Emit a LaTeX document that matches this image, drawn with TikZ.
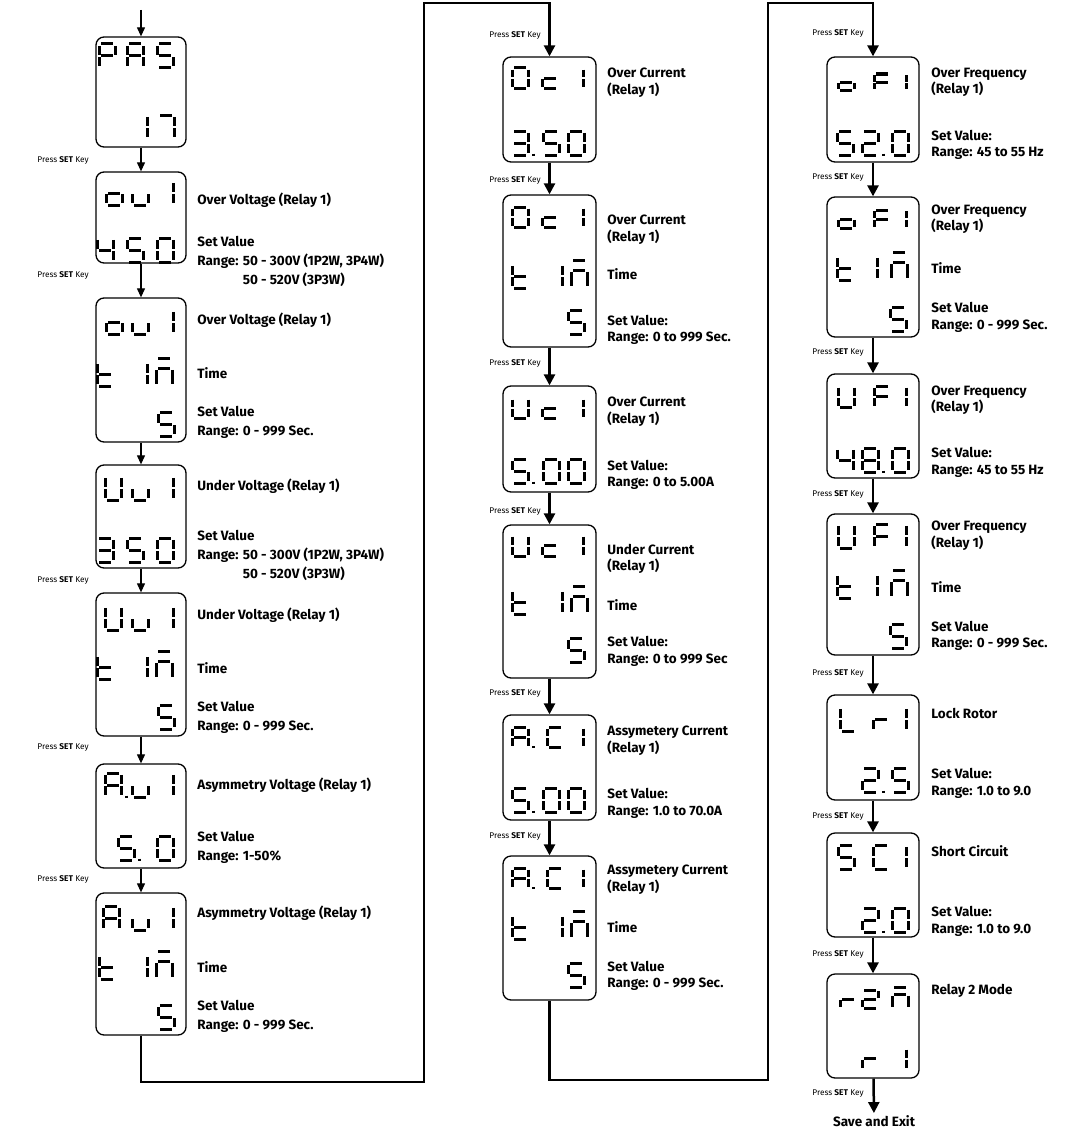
\documentclass[tikz,border=0pt]{standalone}
\usepackage{fontspec}
\setmainfont{Fira Sans}
\usetikzlibrary{arrows.meta}

\tikzset{every picture/.style={line width=0.75pt}}
\tikzset{
  lcdbox/.style={draw, rounded corners=8pt, line width=1.3pt, minimum width=90pt, inner sep=0pt},
  lcdseg/.style={line width=3pt, line cap=butt},
  desc/.style={anchor=west, inner sep=0pt, align=left, font=\fontsize{13.5}{19}\selectfont\bfseries},
  descs/.style={desc, font=\fontsize{13.5}{16.5}\selectfont\bfseries},
  presskey/.style={anchor=east, inner sep=0pt, font=\fontsize{8.3}{10}\selectfont},
  arrowsmall/.style={line width=1.1pt, -{Triangle[length=9pt,width=8pt]}},
  arrowbig/.style={line width=2.5pt, -{Triangle[length=11pt,width=11pt]}},
}

% segment end points of one display digit (16 x 24)
\newcommand{\lcdpoints}{%
  \coordinate (a1) at (2.2,0);   \coordinate (a2) at (13.8,0);
  \coordinate (b1) at (16,1.9);  \coordinate (b2) at (16,10.9);
  \coordinate (c1) at (16,13.1); \coordinate (c2) at (16,22.1);
  \coordinate (d1) at (2.2,24);  \coordinate (d2) at (13.8,24);
  \coordinate (e1) at (0,13.1);  \coordinate (e2) at (0,22.1);
  \coordinate (f1) at (0,1.9);   \coordinate (f2) at (0,10.9);
  \coordinate (g1) at (2.2,12);  \coordinate (g2) at (13.8,12);
  \coordinate (p1) at (21,22.5); \coordinate (p2) at (21,24.5);
  \coordinate (m1) at (2.2,-4);  \coordinate (m2) at (13.8,-4);
  \coordinate (n1) at (2.2,6);   \coordinate (n2) at (13.8,6);
  \coordinate (k1) at (0,7.9);   \coordinate (k2) at (0,22.1);
  \coordinate (l1) at (16,7.9);  \coordinate (l2) at (16,22.1);}
\newcommand{\lcd}[4][1]{%
  \begin{scope}[shift={(#2,#3)},yscale=#1]
    \lcdpoints
    \edef\lcdlist{#4}%
    \foreach \s in \lcdlist {\draw[lcdseg] (\s1) -- (\s2);}
  \end{scope}}
% glyphs
\def\sgA{a,b,c,e,f,g}
\def\sgP{a,b,e,f,g}
\def\sgS{a,c,d,f,g}
\def\sgOne{b,c}
\def\sgTwo{a,b,d,e,g}
\def\sgThree{a,b,c,d,g}
\def\sgFour{b,c,f,g}
\def\sgSeven{a,b,c}
\def\sgEight{a,b,c,d,e,f,g}
\def\sgZero{a,b,c,d,e,f}
\def\sgU{b,c,d,e,f}
\def\sgC{a,d,e,f}
\def\sgF{a,e,f,g}
\def\sgL{d,e,f}
\def\sgo{c,d,e,g}
\def\sgu{c,d,e}
\def\sgc{d,e,g}
\def\sgr{e,g}
\def\sgt{d,e,f,g}
\def\sgm{m,n,k,l}

\begin{document}
\begin{tikzpicture}[x=1pt,y=1pt,yscale=-1,xscale=1]
\path[fill=white] (0,0) rectangle (1067,1132);
\useasboundingbox (0,0) rectangle (1067,1132);

%%%%% first column
\coordinate (start) at (141,10);
\node[lcdbox, minimum height=110pt] (pas) at (141,92) {};
\node[lcdbox, minimum height=91pt] (ovA) at (141,217.5) {};
\node[lcdbox, minimum height=144pt] (ovB) at (141,370) {};
\node[lcdbox, minimum height=103pt] (uvA) at (141,516.5) {};
\node[lcdbox, minimum height=143pt] (uvB) at (141,664.5) {};
\node[lcdbox, minimum height=104pt] (avA) at (141,816) {};
\node[lcdbox, minimum height=142pt] (avB) at (141,964) {};

% PAS 17
\lcd{99}{44}{\sgP} \lcd{127}{44}{\sgA} \lcd{157}{44}{\sgS}
\lcd{131}{115}{\sgOne} \lcd{158}{115}{\sgSeven}
% ou1 450
\lcd{106}{181}{\sgo} \lcd{132}{181}{\sgu} \lcd{157}{181}{\sgOne}
\lcd{97}{238}{\sgFour} \lcd{127}{238}{\sgS} \lcd{157}{238}{\sgZero}
% ou1 time
\lcd{106}{310}{\sgo} \lcd{132}{310}{\sgu} \lcd{157}{310}{\sgOne}
\lcd{97}{362}{\sgt} \lcd{131}{362}{\sgOne} \lcd{156}{362}{\sgm}
\lcd{158}{412}{\sgS}
% Uu1 350
\lcd{105}{476}{\sgU} \lcd{132}{476}{\sgu} \lcd{157}{476}{\sgOne}
\lcd{97}{538}{\sgThree} \lcd{127}{538}{\sgS} \lcd{157}{538}{\sgZero}
% Uu1 time
\lcd{105}{606}{\sgU} \lcd{132}{606}{\sgu} \lcd{157}{606}{\sgOne}
\lcd{97}{655}{\sgt} \lcd{131}{655}{\sgOne} \lcd{156}{655}{\sgm}
\lcd{158}{705}{\sgS}
% A.u1 5.0
\lcd{105}{773}{\sgA,p} \lcd{132}{773}{\sgu} \lcd{157}{773}{\sgOne}
\lcd{118}{836}{\sgS,p} \lcd{157}{836}{\sgZero}
% Au1 time
\lcd{103}{906}{\sgA} \lcd{132}{906}{\sgu} \lcd{157}{906}{\sgOne}
\lcd{99}{955}{\sgt} \lcd{131}{955}{\sgOne} \lcd{156}{955}{\sgm}
\lcd{158}{1005}{\sgS}

% Text Node
\node[desc] (ovA-name) at (197,200) {Over Voltage (Relay 1)};
\node[desc] (ovA-set) at (197,262) {Set Value\\Range: 50 - 300V (1P2W, 3P4W)\\\phantom{Range: }50 - 520V (3P3W)};
\node[desc] (ovB-name) at (197,320) {Over Voltage (Relay 1)};
\node[desc] (ovB-time) at (197,373) {Time};
\node[desc] (ovB-set) at (197,422) {Set Value\\Range: 0 - 999 Sec.};
\node[desc] (uvA-name) at (197,486) {Under Voltage (Relay 1)};
\node[desc] (uvA-set) at (197,556) {Set Value\\Range: 50 - 300V (1P2W, 3P4W)\\\phantom{Range: }50 - 520V (3P3W)};
\node[desc] (uvB-name) at (197,615) {Under Voltage (Relay 1)};
\node[desc] (uvB-time) at (197,668) {Time};
\node[desc] (uvB-set) at (197,717.5) {Set Value\\Range: 0 - 999 Sec.};
\node[desc] (avA-name) at (197,785) {Asymmetry Voltage (Relay 1)};
\node[desc] (avA-set) at (197,847) {Set Value\\Range: 1-50\%};
\node[desc] (avB-name) at (197,913) {Asymmetry Voltage (Relay 1)};
\node[desc] (avB-time) at (197,967) {Time};
\node[desc] (avB-set) at (197,1016.5) {Set Value\\Range: 0 - 999 Sec.};

\node[presskey] (key1) at (89,160) {Press \textbf{SET} Key};
\node[presskey] (key2) at (89,275) {Press \textbf{SET} Key};
\node[presskey] (key3) at (89,580) {Press \textbf{SET} Key};
\node[presskey] (key4) at (89,747) {Press \textbf{SET} Key};
\node[presskey] (key5) at (89,879) {Press \textbf{SET} Key};

\draw[arrowsmall] (start) -- (pas);
\draw[arrowsmall] (pas) -- (ovA);
\draw[arrowsmall] (ovA) -- (ovB);
\draw[arrowsmall] (ovB) -- (uvA);
\draw[arrowsmall] (uvA) -- (uvB);
\draw[arrowsmall] (uvB) -- (avA);
\draw[arrowsmall] (avA) -- (avB);

%%%%% second column
\node[lcdbox, minimum width=93pt, minimum height=105pt] (ocA) at (549.5,109.5) {};
\node[lcdbox, minimum width=93pt, minimum height=152pt] (ocB) at (549.5,271) {};
\node[lcdbox, minimum width=93pt, minimum height=106pt] (ucA) at (549.5,439) {};
\node[lcdbox, minimum width=93pt, minimum height=153pt] (ucB) at (549.5,601.5) {};
\node[lcdbox, minimum width=93pt, minimum height=105pt] (acA) at (549.5,767.5) {};
\node[lcdbox, minimum width=93pt, minimum height=144pt] (acB) at (549.5,928) {};

% Oc1 3.50
\lcd[.85]{512}{68}{\sgZero} \lcd[.85]{542}{68}{\sgc} \lcd[.85]{567}{68}{\sgOne}
\lcd{512}{131}{\sgThree,p} \lcd{543}{131}{\sgS} \lcd{568}{131}{\sgZero}
% Oc1 time
\lcd[.85]{512}{207}{\sgZero} \lcd[.85]{542}{207}{\sgc} \lcd[.85]{567}{207}{\sgOne}
\lcd{512}{264}{\sgt} \lcd{546}{264}{\sgOne} \lcd{571}{264}{\sgm}
\lcd{568}{310}{\sgS}
% Uc1 5.00
\lcd[.85]{512}{398}{\sgU} \lcd[.85]{542}{398}{\sgc} \lcd[.85]{567}{398}{\sgOne}
\lcd{512}{459}{\sgS,p} \lcd{543}{459}{\sgZero} \lcd{568}{459}{\sgZero}
% Uc1 time
\lcd[.9]{512}{535}{\sgU} \lcd[.9]{542}{535}{\sgc} \lcd[.9]{567}{535}{\sgOne}
\lcd{512}{590}{\sgt} \lcd{546}{590}{\sgOne} \lcd{571}{590}{\sgm}
\lcd{568}{638}{\sgS}
% A.C1 5.00
\lcd[.85]{512}{727}{\sgA,p} \lcd[.85]{547}{727}{\sgC} \lcd[.85]{567}{727}{\sgOne}
\lcd{512}{788}{\sgS,p} \lcd{543}{788}{\sgZero} \lcd{568}{788}{\sgZero}
% A.C1 time
\lcd[.85]{512}{868}{\sgA,p} \lcd[.85]{547}{868}{\sgC} \lcd[.85]{567}{868}{\sgOne}
\lcd{512}{915}{\sgt} \lcd{546}{915}{\sgOne} \lcd{571}{915}{\sgm}
\lcd{568}{963}{\sgS}

% Text Node
\node[descs] (ocA-name) at (607,82.5) {Over Current\\(Relay 1)};
\node[descs] (ocB-name) at (607,229.5) {Over Current\\(Relay 1)};
\node[descs] (ocB-time) at (607,274) {Time};
\node[descs] (ocB-set) at (607,330) {Set Value:\\Range: 0 to 999 Sec.};
\node[descs] (ucA-name) at (607,411.5) {Over Current\\(Relay 1)};
\node[descs] (ucA-set) at (607,475) {Set Value:\\Range: 0 to 5.00A};
\node[descs] (ucB-name) at (607,559) {Under Current\\(Relay 1)};
\node[descs] (ucB-time) at (607,605) {Time};
\node[descs] (ucB-set) at (607,651.5) {Set Value:\\Range: 0 to 999 Sec};
\node[descs] (acA-name) at (607,740.5) {Assymetery Current\\(Relay 1)};
\node[descs] (acA-set) at (607,803.5) {Set Value:\\Range: 1.0 to 70.0A};
\node[descs] (acB-name) at (607,879.5) {Assymetery Current\\(Relay 1)};
\node[descs] (acB-time) at (607,927) {Time};
\node[descs] (acB-set) at (607,976) {Set Value\\Range: 0 - 999 Sec.};

\node[presskey] (key6) at (541,35) {Press \textbf{SET} Key};
\node[presskey] (key7) at (541,180) {Press \textbf{SET} Key};
\node[presskey] (key8) at (541,363) {Press \textbf{SET} Key};
\node[presskey] (key9) at (541,511) {Press \textbf{SET} Key};
\node[presskey] (key10) at (541,693) {Press \textbf{SET} Key};
\node[presskey] (key11) at (541,836) {Press \textbf{SET} Key};

\coordinate (turnA) at (424,1082);
\coordinate (topA) at (424,3);
\draw[arrowbig] (avB.south) |- (turnA) -- (topA) -| (ocA.north);
\draw[arrowbig] (ocA) -- (ocB);
\draw[arrowbig] (ocB) -- (ucA);
\draw[arrowbig] (ucA) -- (ucB);
\draw[arrowbig] (ucB) -- (acA);
\draw[arrowbig] (acA) -- (acB);

%%%%% third column
\node[lcdbox, minimum width=92pt, minimum height=105pt] (ofA) at (873,109.5) {};
\node[lcdbox, minimum width=92pt, minimum height=140pt] (ofB) at (873,267) {};
\node[lcdbox, minimum width=92pt, minimum height=104pt] (ufA) at (873,426) {};
\node[lcdbox, minimum width=92pt, minimum height=141pt] (ufB) at (873,584.5) {};
\node[lcdbox, minimum width=92pt, minimum height=105pt] (lr) at (873,747.5) {};
\node[lcdbox, minimum width=92pt, minimum height=104pt] (sc) at (873,885) {};
\node[lcdbox, minimum width=92pt, minimum height=104pt] (rm) at (873,1026) {};

% oF1 52.0
\lcd[.7]{838}{74}{\sgo} \lcd[.7]{874}{74}{\sgF} \lcd[.7]{890}{74}{\sgOne}
\lcd{837}{131}{\sgS} \lcd{862}{131}{\sgTwo,p} \lcd{892}{131}{\sgZero}
% oF1 time
\lcd[.75]{838}{210}{\sgo} \lcd[.75]{874}{210}{\sgF} \lcd[.75]{890}{210}{\sgOne}
\lcd{837}{256}{\sgt} \lcd{861}{256}{\sgOne} \lcd{891}{256}{\sgm}
\lcd{890}{307}{\sgS}
% UF1 48.0
\lcd[.9]{838}{386}{\sgU} \lcd[.9]{874}{386}{\sgF} \lcd[.9]{890}{386}{\sgOne}
\lcd{837}{448}{\sgFour} \lcd{862}{448}{\sgEight,p} \lcd{892}{448}{\sgZero}
% UF1 time
\lcd{838}{524}{\sgU} \lcd{874}{524}{\sgF} \lcd{890}{524}{\sgOne}
\lcd{837}{574}{\sgt} \lcd{861}{574}{\sgOne} \lcd{891}{574}{\sgm}
\lcd{890}{624}{\sgS}
% Lr1 2.5
\lcd{840}{707}{\sgL} \lcd{873}{707}{\sgr} \lcd{890}{707}{\sgOne}
\lcd{862}{768}{\sgTwo,p} \lcd{892}{768}{\sgS}
% SC1 2.0
\lcd{838}{845}{\sgS} \lcd{873}{845}{\sgC} \lcd{890}{845}{\sgOne}
\lcd{862}{908}{\sgTwo,p} \lcd{892}{908}{\sgZero}
% r2m r1
\lcd[.75]{840}{990}{\sgr} \lcd[.75]{862}{990}{\sgTwo} \lcd[.75]{892}{990}{\sgm}
\lcd[.9]{862}{1048}{\sgr} \lcd[.9]{890}{1048}{\sgOne}

% Text Node
\node[descs] (ofA-name) at (931,82) {Over Frequency\\(Relay 1)};
\node[descs] (ofA-set) at (931,145) {Set Value:\\Range: 45 to 55 Hz};
\node[descs] (ofB-name) at (931,219) {Over Frequency\\(Relay 1)};
\node[descs] (ofB-time) at (931,268) {Time};
\node[descs] (ofB-set) at (931,317.5) {Set Value\\Range: 0 - 999 Sec.};
\node[descs] (ufA-name) at (931,400) {Over Frequency\\(Relay 1)};
\node[descs] (ufA-set) at (931,462.5) {Set Value:\\Range: 45 to 55 Hz};
\node[descs] (ufB-name) at (931,535.5) {Over Frequency\\(Relay 1)};
\node[descs] (ufB-time) at (931,587) {Time};
\node[descs] (ufB-set) at (931,636) {Set Value\\Range: 0 - 999 Sec.};
\node[descs] (lr-name) at (931,713) {Lock Rotor};
\node[descs] (lr-set) at (931,783.5) {Set Value:\\Range: 1.0 to 9.0};
\node[descs] (sc-name) at (931,851) {Short Circuit};
\node[descs] (sc-set) at (931,921.5) {Set Value:\\Range: 1.0 to 9.0};
\node[descs] (rm-name) at (931,991) {Relay 2 Mode};
\node[descs, anchor=center, inner sep=2pt] (save) at (874,1121) {Save and Exit};

\node[presskey] (key12) at (864,33) {Press \textbf{SET} Key};
\node[presskey] (key13) at (864,177) {Press \textbf{SET} Key};
\node[presskey] (key14) at (864,352) {Press \textbf{SET} Key};
\node[presskey] (key15) at (864,494) {Press \textbf{SET} Key};
\node[presskey] (key16) at (864,673) {Press \textbf{SET} Key};
\node[presskey] (key17) at (864,816) {Press \textbf{SET} Key};
\node[presskey] (key18) at (864,954) {Press \textbf{SET} Key};
\node[presskey] (key19) at (864,1093) {Press \textbf{SET} Key};

\coordinate (turnB) at (768,1080);
\coordinate (topB) at (768,3);
\draw[arrowbig] (acB.south) |- (turnB) -- (topB) -| (ofA.north);
\draw[arrowbig] (ofA) -- (ofB);
\draw[arrowbig] (ofB) -- (ufA);
\draw[arrowbig] (ufA) -- (ufB);
\draw[arrowbig] (ufB) -- (lr);
\draw[arrowbig] (lr) -- (sc);
\draw[arrowbig] (sc) -- (rm);
\draw[arrowbig] (rm) -- (save);

\end{tikzpicture}
\end{document}
